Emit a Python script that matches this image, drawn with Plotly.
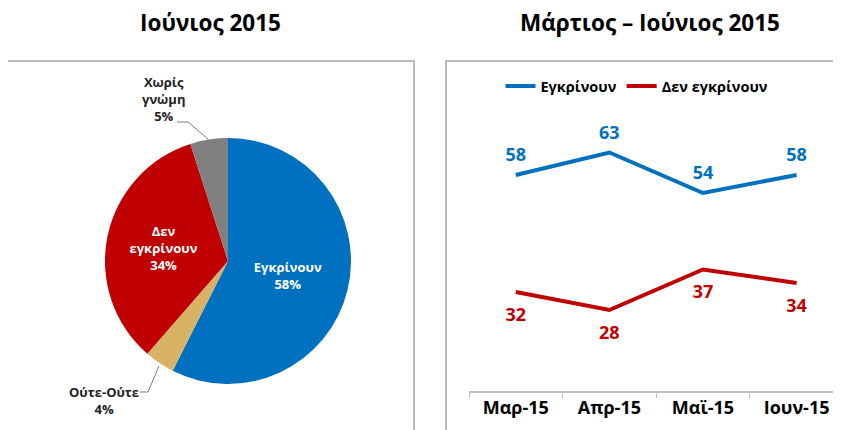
import plotly.graph_objects as go

W, H = 841, 430

# Pie data
pie_labels = ["Εγκρίνουν", "Ούτε-Ούτε", "Δεν εγκρίνουν", "Χωρίς γνώμη"]
pie_values = [58, 4, 34, 5]
pie_colors = ["#0070C0", "#D9B365", "#C00000", "#808080"]
pie_inside_text = ["Εγκρίνουν<br>58%", "", "Δεν<br>εγκρίνουν<br>34%", ""]

# Line data
months = ["Μαρ-15", "Απρ-15", "Μαϊ-15", "Ιουν-15"]
approve = [58, 63, 54, 58]
disapprove = [32, 28, 37, 34]

FONT = "Open Sans"
OFF = 8  # page body margin

def px(x):
    return (x - OFF) / W

def py(y):
    return 1 - (y - OFF) / H

fig = go.Figure()

fig.add_trace(go.Pie(
    labels=pie_labels, values=pie_values, sort=False, direction="clockwise",
    rotation=0,
    marker=dict(colors=pie_colors, line=dict(width=0)),
    text=pie_inside_text, texttemplate="%{text}", textinfo="text",
    textposition="inside", insidetextorientation="horizontal",
    insidetextfont=dict(family=FONT, size=13, color="white", weight="bold"),
    domain=dict(x=[px(105), px(351)], y=[py(384), py(138)]),
    showlegend=False, hoverinfo="label+percent",
))

fig.add_trace(go.Scatter(
    x=months, y=approve, mode="lines+markers+text", name="Εγκρίνουν",
    line=dict(color="#0070C0", width=4),
    marker=dict(size=13, color="rgba(0,0,0,0)"),
    text=[str(v) for v in approve], textposition="top center",
    textfont=dict(family=FONT, size=18, color="#0070C0", weight="bold"),
    xaxis="x", yaxis="y",
))
fig.add_trace(go.Scatter(
    x=months, y=disapprove, mode="lines+markers+text", name="Δεν εγκρίνουν",
    line=dict(color="#C00000", width=4),
    marker=dict(size=23, color="rgba(0,0,0,0)"),
    text=[str(v) for v in disapprove], textposition="bottom center",
    textfont=dict(family=FONT, size=18, color="#C00000", weight="bold"),
    xaxis="x", yaxis="y",
))

shapes = [
    dict(type="rect", xref="paper", yref="paper", x0=px(7), x1=px(414), y0=py(445), y1=py(61),
         line=dict(color="#A6A6A6", width=1.5), layer="below"),
    dict(type="rect", xref="paper", yref="paper", x0=px(446), x1=px(860), y0=py(445), y1=py(61),
         line=dict(color="#A6A6A6", width=1.5), layer="below"),
    # leader lines
    dict(type="path", xref="paper", yref="paper",
         path=f"M {px(177)},{py(122)} L {px(188)},{py(122)} L {px(208)},{py(139)}",
         line=dict(color="#7F7F7F", width=1)),
    dict(type="path", xref="paper", yref="paper",
         path=f"M {px(140)},{py(392)} L {px(148)},{py(392)} L {px(159)},{py(366)}",
         line=dict(color="#7F7F7F", width=1)),
]

annotations = [
    dict(text="<b>Ιούνιος 2015</b>", x=px(210), y=py(23), xref="paper", yref="paper",
         xanchor="center", yanchor="middle",
         showarrow=False, font=dict(family=FONT, size=22.5, color="#000000")),
    dict(text="<b>Μάρτιος – Ιούνιος 2015</b>", x=px(650), y=py(23), xref="paper", yref="paper",
         xanchor="center", yanchor="middle",
         showarrow=False, font=dict(family=FONT, size=22.5, color="#000000")),
    dict(text="<b>Χωρίς<br>γνώμη<br>5%</b>", x=px(163), y=py(99), xref="paper", yref="paper",
         xanchor="center", yanchor="middle",
         showarrow=False, align="center", font=dict(family=FONT, size=13, color="#222222")),
    dict(text="<b>Ούτε-Ούτε<br>4%</b>", x=px(104), y=py(400), xref="paper", yref="paper",
         xanchor="center", yanchor="middle",
         showarrow=False, align="center", font=dict(family=FONT, size=13, color="#222222")),
]

fig.update_layout(
    width=W, height=H,
    margin=dict(l=0, r=0, t=0, b=0),
    paper_bgcolor="white", plot_bgcolor="white",
    font=dict(family=FONT, color="#000000"),
    xaxis=dict(domain=[px(469), 1.0], type="category", range=[-0.5, 3.56],
               showline=True, linecolor="#BFBFBF", linewidth=1.5,
               ticks="outside", tickson="boundaries", ticklen=5, tickcolor="#BFBFBF",
               showgrid=False, zeroline=False,
               tickfont=dict(family=FONT, size=18, color="#000000", weight="bold"),
               anchor="y", fixedrange=True),
    yaxis=dict(domain=[py(391), py(121)], range=[10, 70], visible=False,
               showgrid=False, zeroline=False, anchor="x", fixedrange=True),
    legend=dict(orientation="h", x=px(637), y=py(86), xanchor="center", yanchor="middle",
                font=dict(family=FONT, size=14.5, color="#000000", weight="bold"),
                bgcolor="rgba(0,0,0,0)", tracegroupgap=0),
    shapes=shapes, annotations=annotations,
)

fig.write_html("out.html")
